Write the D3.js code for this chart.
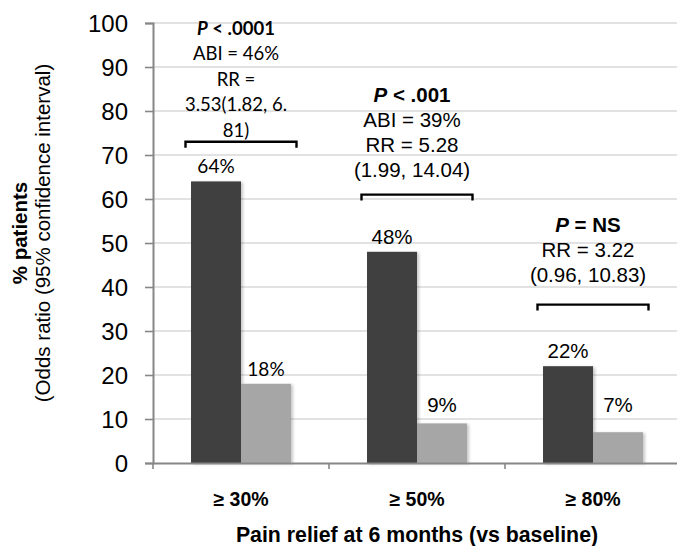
<!DOCTYPE html>
<html>
<head>
<meta charset="utf-8">
<script src="https://cdn.jsdelivr.net/npm/d3@7"></script>
<style>
  html, body { margin: 0; padding: 0; background: #fff; }
  svg { display: block; }
</style>
</head>
<body>
<svg id="chart" width="677" height="546"></svg>
<script>
// Responders by pain-relief threshold at 6 months
const categories = ["≥ 30%", "≥ 50%", "≥ 80%"];
const seriesNames = ["treated", "control"];
const treatedValues = [64, 48, 22];
const controlValues = [18, 9, 7];
const yTickValues = [0, 10, 20, 30, 40, 50, 60, 70, 80, 90, 100];

// Statistical annotation above each group (first entry of each line set is the P-value line)
const pValueText = ["< .0001", "< .001", "= NS"];
const statLines = [
  ["ABI = 46%", "RR =", "3.53(1.82, 6.", "81)"],
  ["ABI = 39%", "RR = 5.28", "(1.99, 14.04)"],
  ["RR = 3.22", "(0.96, 10.83)"]
];
// Levels (in % units) for the comparison brackets and the first annotation line
const bracketLevels = [73, 61, 36];
const annotationLevels = [97.3, 82, 52.5];

// Styling
const fontArial = "'Liberation Sans', Arial, sans-serif";
const fontCalibri = "Lato, 'Open Sans', sans-serif";
const groupFonts = [fontCalibri, fontArial, fontArial];
const groupFontSizes = [18.5, 20.5, 20.5];
const groupLineGaps = [25.5, 25, 25];
const colors = { treated: "#404040", control: "#a6a6a6" };

const svg = d3.select("#chart");
const margin = { left: 153, right: -4, top: 23, bottom: 83 };
const W = 677, H = 546;

const x0 = d3.scaleBand().domain(categories).range([margin.left, W - margin.right]).padding(0);
const bw = x0.bandwidth();
const barW = bw * 0.284;
const x1 = d3.scaleBand().domain(seriesNames).range([bw / 2 - barW, bw / 2 + barW]).padding(0);
const y = d3.scaleLinear().domain([0, 100]).range([H - margin.bottom, margin.top]);

// soft drop shadow on bars
const defs = svg.append("defs");
const f = defs.append("filter").attr("id", "shadow").attr("x", "-10%").attr("y", "-10%").attr("width", "130%").attr("height", "130%");
f.append("feDropShadow").attr("dx", 2).attr("dy", 1).attr("stdDeviation", 1.4)
  .attr("flood-color", "#000").attr("flood-opacity", 0.22);

// gridlines
svg.append("g")
  .selectAll("line")
  .data(yTickValues.filter(d => d > 0))
  .join("line")
  .attr("x1", margin.left).attr("x2", W)
  .attr("y1", d => y(d)).attr("y2", d => y(d))
  .attr("stroke", "#d9d9d9").attr("stroke-width", 1.6);

// y axis
const yAxis = svg.append("g")
  .attr("transform", `translate(${margin.left},0)`)
  .call(d3.axisLeft(y).tickValues(yTickValues).tickSize(8).tickPadding(17).tickFormat(d3.format("d")));
yAxis.select(".domain").attr("stroke", "#868686").attr("stroke-width", 2);
yAxis.selectAll(".tick line").attr("stroke", "#868686").attr("stroke-width", 1.6);
yAxis.selectAll(".tick text")
  .attr("font-family", fontArial).attr("font-size", 24).attr("fill", "#000")
  .attr("dy", "0.36em");

// bars
const data = categories.map((c, i) => ({ cat: c, values: [
  { key: "treated", value: treatedValues[i] },
  { key: "control", value: controlValues[i] }
] }));

const groups = svg.append("g").selectAll("g")
  .data(data).join("g")
  .attr("transform", d => `translate(${x0(d.cat)},0)`);

groups.selectAll("rect")
  .data(d => d.values)
  .join("rect")
  .attr("x", d => x1(d.key))
  .attr("width", x1.bandwidth())
  .attr("y", d => y(d.value))
  .attr("height", d => y(0) - y(d.value))
  .attr("fill", d => colors[d.key])
  .attr("filter", "url(#shadow)");

// x axis
const xAxis = svg.append("g")
  .attr("transform", `translate(0,${y(0)})`)
  .call(d3.axisBottom(x0).tickSize(0).tickPadding(0).tickFormat(""));
xAxis.select(".domain").attr("stroke", "#868686").attr("stroke-width", 2);
// boundary ticks between categories
const boundaries = categories.map(c => x0(c)).concat([x0(categories[categories.length - 1]) + bw]);
xAxis.selectAll(".bound").data(boundaries).join("line")
  .attr("class", "bound")
  .attr("x1", d => d).attr("x2", d => d)
  .attr("y1", 0).attr("y2", 6)
  .attr("stroke", "#868686").attr("stroke-width", 1.6);

// category labels
svg.append("g").selectAll("text")
  .data(categories).join("text")
  .attr("x", d => x0(d) + bw / 2)
  .attr("y", 506)
  .attr("text-anchor", "middle")
  .attr("font-family", fontArial).attr("font-weight", "bold").attr("font-size", 19.5)
  .text(d => d);

// value labels
data.forEach((d, i) => {
  d.values.forEach(v => {
    svg.append("text")
      .attr("x", x0(d.cat) + x1(v.key) + x1.bandwidth() / 2)
      .attr("y", Math.min(y(v.value) - 8, y(11.5)))
      .attr("text-anchor", "middle")
      .attr("font-family", groupFonts[i])
      .attr("font-size", i === 0 ? 19 : 20.5)
      .attr("fill", "#000")
      .text(v.value + "%");
  });
});

// brackets
categories.forEach((c, i) => {
  const cx = x0(c) + bw / 2;
  const half = 55.5;
  const yb = y(bracketLevels[i]);
  svg.append("path")
    .attr("d", `M${cx - half},${yb + 6}V${yb}H${cx + half}V${yb + 6}`)
    .attr("fill", "none").attr("stroke", "#000").attr("stroke-width", 2.4);
});

// annotation text
categories.forEach((c, i) => {
  const cx = x0(c) + bw / 2 - 5;
  const y0 = y(annotationLevels[i]);
  const t = svg.append("text")
    .attr("text-anchor", "middle")
    .attr("font-family", groupFonts[i])
    .attr("font-size", groupFontSizes[i])
    .attr("fill", "#000");
  const first = t.append("tspan").attr("x", cx).attr("y", y0).attr("font-weight", "bold");
  first.append("tspan").attr("font-style", "italic").text("P");
  first.append("tspan").text(" " + pValueText[i]);
  statLines[i].forEach((line, k) => {
    t.append("tspan").attr("x", cx).attr("y", y0 + groupLineGaps[i] * (k + 1)).text(line);
  });
});

// y-axis title (two lines, rotated)
const yTitle = svg.append("text")
  .attr("transform", "translate(0,233) rotate(-90)")
  .attr("text-anchor", "middle")
  .attr("font-family", fontArial).attr("font-size", 20.5).attr("fill", "#000");
yTitle.append("tspan").attr("x", 0).attr("y", 27).attr("font-weight", "bold").text("% patients");
yTitle.append("tspan").attr("x", 0).attr("y", 50).text("(Odds ratio (95% confidence interval)");

// x-axis title
svg.append("text")
  .attr("x", 417).attr("y", 542)
  .attr("text-anchor", "middle")
  .attr("font-family", fontArial).attr("font-weight", "bold").attr("font-size", 21.3)
  .attr("fill", "#000")
  .text("Pain relief at 6 months (vs baseline)");
</script>
</body>
</html>
